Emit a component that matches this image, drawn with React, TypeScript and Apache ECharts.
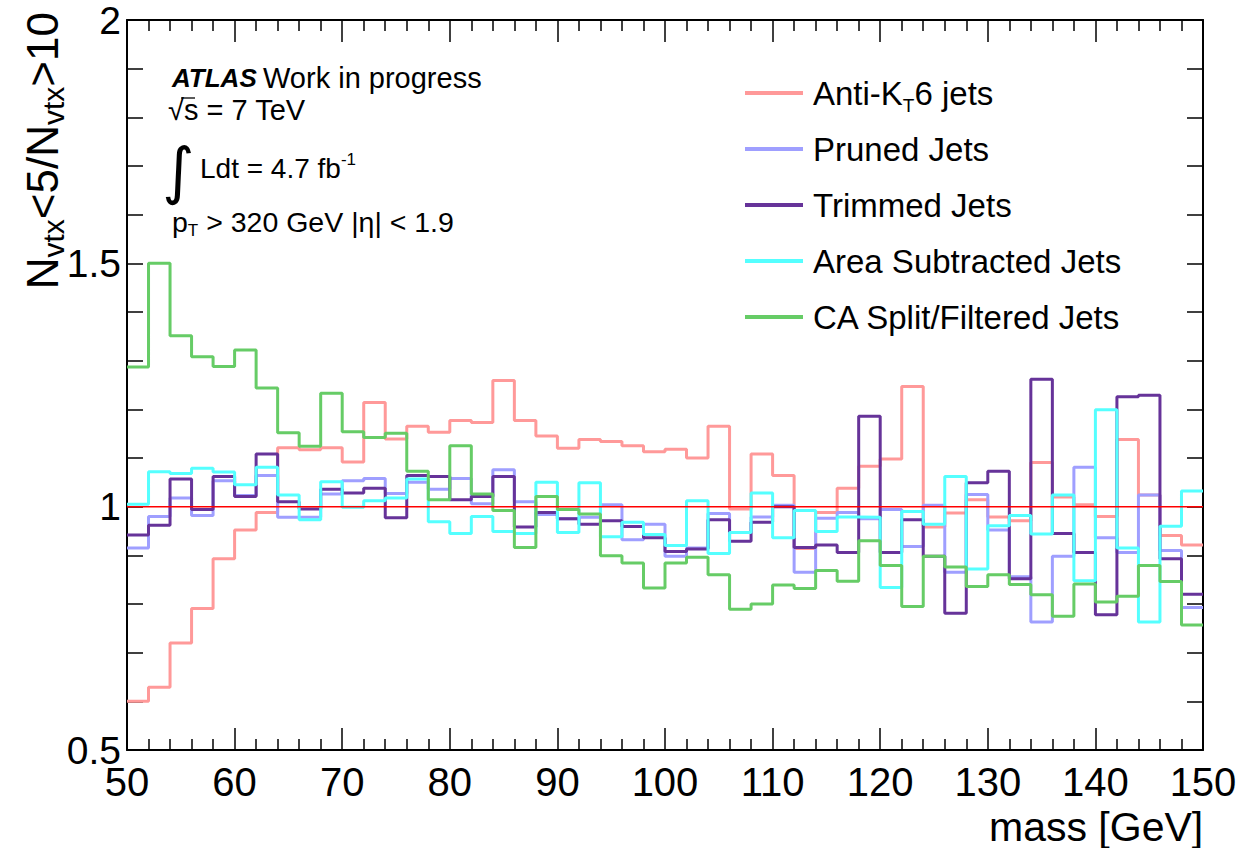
import React, { useEffect, useRef } from "react";
import * as echarts from "echarts";

// Mass histogram binning [GeV]
const massStart = 50;
const massEnd = 150;
const binWidth = 2;

// Ratio N_vtx<5 / N_vtx>10 per 2 GeV mass bin, 50 bins from 50 to 150 GeV
const antiKt6 = [
  0.600, 0.629, 0.720, 0.791, 0.893, 0.952, 0.988, 1.121, 1.117, 1.121,
  1.092, 1.214, 1.139, 1.165, 1.153, 1.177, 1.173, 1.259, 1.177, 1.145,
  1.120, 1.138, 1.134, 1.125, 1.113, 1.118, 1.100, 1.165, 0.995, 1.108,
  1.064, 0.914, 0.988, 1.038, 1.083, 1.098, 1.247, 0.958, 0.987, 1.014,
  0.979, 0.971, 1.091, 1.020, 1.004, 0.980, 1.138, 1.024, 0.941, 0.921,
];
const pruned = [
  0.915, 0.980, 1.018, 0.982, 1.053, 1.023, 1.064, 0.978, 0.978, 1.026,
  1.053, 1.058, 1.027, 1.050, 1.036, 1.058, 1.006, 1.076, 1.010, 0.984,
  0.975, 0.978, 1.004, 0.932, 0.964, 0.898, 0.915, 0.986, 0.947, 0.979,
  1.003, 0.865, 0.976, 0.988, 0.975, 0.994, 0.918, 1.003, 0.865, 1.025,
  0.952, 0.856, 0.763, 0.898, 1.081, 0.936, 0.906, 1.024, 0.910, 0.793,
];
const trimmed = [
  0.942, 0.962, 1.057, 0.994, 1.062, 1.021, 1.108, 1.010, 0.995, 1.036,
  1.028, 1.038, 0.977, 1.064, 1.062, 1.014, 1.021, 1.062, 0.958, 0.988,
  0.975, 0.964, 0.971, 0.959, 0.936, 0.908, 0.913, 0.973, 0.929, 0.968,
  1.000, 0.916, 0.921, 0.906, 1.186, 0.906, 0.973, 0.898, 0.781, 1.049,
  1.073, 0.852, 1.262, 0.945, 0.906, 0.778, 1.226, 1.229, 0.893, 0.820,
];
const areaSubtracted = [
  1.005, 1.072, 1.068, 1.079, 1.071, 1.045, 1.081, 1.024, 0.973, 1.051,
  0.999, 1.012, 1.018, 1.057, 0.969, 0.945, 0.980, 0.949, 0.945, 1.050,
  0.947, 1.049, 0.938, 0.968, 0.943, 0.920, 1.012, 0.904, 0.947, 1.028,
  0.936, 0.992, 0.949, 0.979, 0.978, 0.834, 0.990, 0.964, 1.062, 0.872,
  0.961, 0.982, 0.944, 1.024, 0.848, 1.199, 0.915, 0.763, 0.960, 1.032,
];
const caSplitFiltered = [
  1.287, 1.500, 1.351, 1.308, 1.288, 1.322, 1.244, 1.152, 1.124, 1.233,
  1.154, 1.142, 1.151, 1.073, 1.014, 1.125, 1.026, 0.992, 0.916, 1.021,
  0.994, 0.985, 0.899, 0.884, 0.833, 0.884, 0.896, 0.860, 0.789, 0.800,
  0.839, 0.832, 0.869, 0.847, 0.930, 0.879, 0.795, 0.898, 0.876, 0.836,
  0.860, 0.840, 0.819, 0.775, 0.841, 0.804, 0.816, 0.879, 0.846, 0.757,
];

const referenceLevel = 1;

const seriesNames = [
  "Anti-KT6 jets",
  "Pruned Jets",
  "Trimmed Jets",
  "Area Subtracted Jets",
  "CA Split/Filtered Jets",
];
const seriesValues = [antiKt6, pruned, trimmed, areaSubtracted, caSplitFiltered];
const seriesColors = ["#ff9999", "#9f9fff", "#663399", "#55ffff", "#66cc66"];

const yTickLabels = ["0.5", "1", "1.5", "2"];

const FONT = "'Liberation Sans', Arial, Helvetica, sans-serif";

// Histogram outline: one point per lower bin edge, plus the last upper edge
function toSteps(values: number[]): number[][] {
  const pts = values.map((v, i) => [massStart + i * binWidth, v]);
  pts.push([massStart + values.length * binWidth, values[values.length - 1]]);
  return pts;
}

export default function App() {
  const ref = useRef<HTMLDivElement>(null);

  useEffect(() => {
    if (!ref.current) return;
    const chart = echarts.init(ref.current, undefined, { renderer: "svg" });

    const tickBase = {
      inside: true,
      lineStyle: { color: "#000", width: 1.5 },
    };

    const histSeries = seriesNames.map((name, k) => ({
      name,
      type: "line",
      step: "end",
      xAxisIndex: 0,
      yAxisIndex: 0,
      symbol: "none",
      color: seriesColors[k],
      lineStyle: { color: seriesColors[k], width: 3 },
      data: toSteps(seriesValues[k]),
    }));

    chart.setOption({
      animation: false,
      backgroundColor: "#ffffff",
      grid: {
        left: 127,
        top: 20,
        right: 39,
        bottom: 98,
        show: false,
        containLabel: false,
        outerBoundsMode: "none",
      },
      legend: {
        data: seriesNames,
        orient: "vertical",
        left: 740,
        top: 66,
        itemWidth: 58,
        itemHeight: 4,
        itemGap: 12,
        icon: "rect",
        formatter: (name: string) =>
          name === "Anti-KT6 jets" ? "{n|Anti-K}{s|T}{n|6 jets}" : `{n|${name}}{s| }`,
        textStyle: {
          fontFamily: FONT,
          fontSize: 33,
          lineHeight: 44,
          height: 44,
          color: "#000",
          padding: [0, 0, 0, 5],
          rich: {
            n: { fontFamily: FONT, fontSize: 33, lineHeight: 44, verticalAlign: "middle", color: "#000" },
            s: { fontFamily: FONT, fontSize: 19, lineHeight: 14, verticalAlign: "bottom", color: "#000" },
          },
        },
      },
      xAxis: [
        {
          type: "value",
          min: massStart,
          max: massEnd,
          interval: 10,
          position: "bottom",
          axisLine: { show: true, onZero: false, lineStyle: { color: "#000", width: 2 } },
          axisTick: { ...tickBase, length: 22 },
          minorTick: { show: true, splitNumber: 5, length: 11, lineStyle: { color: "#000", width: 1.5 } },
          splitLine: { show: false },
          axisLabel: { fontFamily: FONT, fontSize: 40, color: "#000", margin: 12 },
          name: "mass [GeV]",
          nameLocation: "middle",
          nameGap: 54,
          nameTextStyle: {
            fontFamily: FONT,
            fontSize: 41,
            lineHeight: 38,
            color: "#000",
            align: "left",
            verticalAlign: "top",
            padding: [0, 0, 0, 324],
          },
        },
        {
          type: "value",
          min: massStart,
          max: massEnd,
          interval: 10,
          position: "top",
          axisLine: { show: true, onZero: false, lineStyle: { color: "#000", width: 2 } },
          axisTick: { ...tickBase, length: 22 },
          minorTick: { show: true, splitNumber: 5, length: 11, lineStyle: { color: "#000", width: 1.5 } },
          splitLine: { show: false },
          axisLabel: { show: false },
        },
      ],
      yAxis: [
        {
          type: "value",
          min: 0.5,
          max: 2,
          interval: 0.5,
          position: "left",
          axisLine: { show: true, onZero: false, lineStyle: { color: "#000", width: 2 } },
          axisTick: { ...tickBase, length: 16 },
          minorTick: { show: true, splitNumber: 5, length: 16, lineStyle: { color: "#000", width: 1.5 } },
          splitLine: { show: false },
          axisLabel: {
            fontFamily: FONT,
            fontSize: 39,
            color: "#000",
            margin: 6,
            formatter: (v: number) => yTickLabels.find((t) => Math.abs(parseFloat(t) - v) < 1e-6) ?? "",
          },
        },
        {
          type: "value",
          min: 0.5,
          max: 2,
          interval: 0.5,
          position: "right",
          axisLine: { show: true, onZero: false, lineStyle: { color: "#000", width: 2 } },
          axisTick: { ...tickBase, length: 16 },
          minorTick: { show: true, splitNumber: 5, length: 16, lineStyle: { color: "#000", width: 1.5 } },
          splitLine: { show: false },
          axisLabel: { show: false },
        },
      ],
      series: [
        ...histSeries,
        {
          name: "ratio = 1",
          type: "line",
          xAxisIndex: 0,
          yAxisIndex: 0,
          symbol: "none",
          color: "#ff0000",
          lineStyle: { color: "#ff0000", width: 1.5 },
          data: [
            [massStart, referenceLevel],
            [massEnd, referenceLevel],
          ],
          z: 5,
        },
      ],
      graphic: [
        // Y-axis title, reading bottom to top
        {
          type: "text",
          x: 42,
          y: 12,
          rotation: Math.PI / 2,
          style: {
            text: "{n|N}{s|vtx}{n|<5/N}{s|vtx}{n|>10}",
            align: "right",
            verticalAlign: "middle",
            fill: "#000",
            rich: {
              n: { fontFamily: FONT, fontSize: 44, lineHeight: 52, verticalAlign: "middle", fill: "#000" },
              s: { fontFamily: FONT, fontSize: 30, lineHeight: 26, verticalAlign: "bottom", fill: "#000" },
            },
          },
        },
        // Experiment label
        {
          type: "text",
          x: 172,
          y: 78,
          style: {
            text: "ATLAS",
            fontFamily: FONT,
            fontSize: 26,
            fontWeight: "bold",
            fontStyle: "italic",
            verticalAlign: "middle",
            fill: "#000",
          },
        },
        {
          type: "text",
          x: 263,
          y: 78,
          style: {
            text: "Work in progress",
            fontFamily: FONT,
            fontSize: 29,
            verticalAlign: "middle",
            fill: "#000",
          },
        },
        {
          type: "text",
          x: 168,
          y: 110,
          style: {
            text: "√s = 7 TeV",
            fontFamily: FONT,
            fontSize: 29,
            verticalAlign: "middle",
            fill: "#000",
          },
        },
        {
          type: "line",
          shape: { x1: 181, y1: 98, x2: 195, y2: 98 },
          style: { stroke: "#000", lineWidth: 1.3 },
        },
        {
          type: "text",
          x: 162,
          y: 170,
          style: {
            text: "∫",
            fontFamily: "'DejaVu Sans', sans-serif",
            fontSize: 62,
            verticalAlign: "middle",
            fill: "#000",
          },
        },
        {
          type: "text",
          x: 200,
          y: 168,
          style: {
            text: "{n|Ldt = 4.7 fb}{p|-1}",
            verticalAlign: "middle",
            fill: "#000",
            rich: {
              n: { fontFamily: FONT, fontSize: 28, lineHeight: 34, verticalAlign: "middle", fill: "#000" },
              p: { fontFamily: FONT, fontSize: 17, lineHeight: 17, verticalAlign: "top", fill: "#000" },
            },
          },
        },
        {
          type: "text",
          x: 172,
          y: 222,
          style: {
            text: "{n|p}{s|T}{n| > 320 GeV |η| < 1.9}",
            verticalAlign: "middle",
            fill: "#000",
            rich: {
              n: { fontFamily: FONT, fontSize: 28.5, lineHeight: 34, verticalAlign: "middle", fill: "#000" },
              s: { fontFamily: FONT, fontSize: 17, lineHeight: 14, verticalAlign: "bottom", fill: "#000" },
            },
          },
        },
      ],
    });

    return () => chart.dispose();
  }, []);

  return (
    <div
      ref={ref}
      style={{ position: "fixed", left: 0, top: 0, width: 1242, height: 848, background: "#fff" }}
    />
  );
}
